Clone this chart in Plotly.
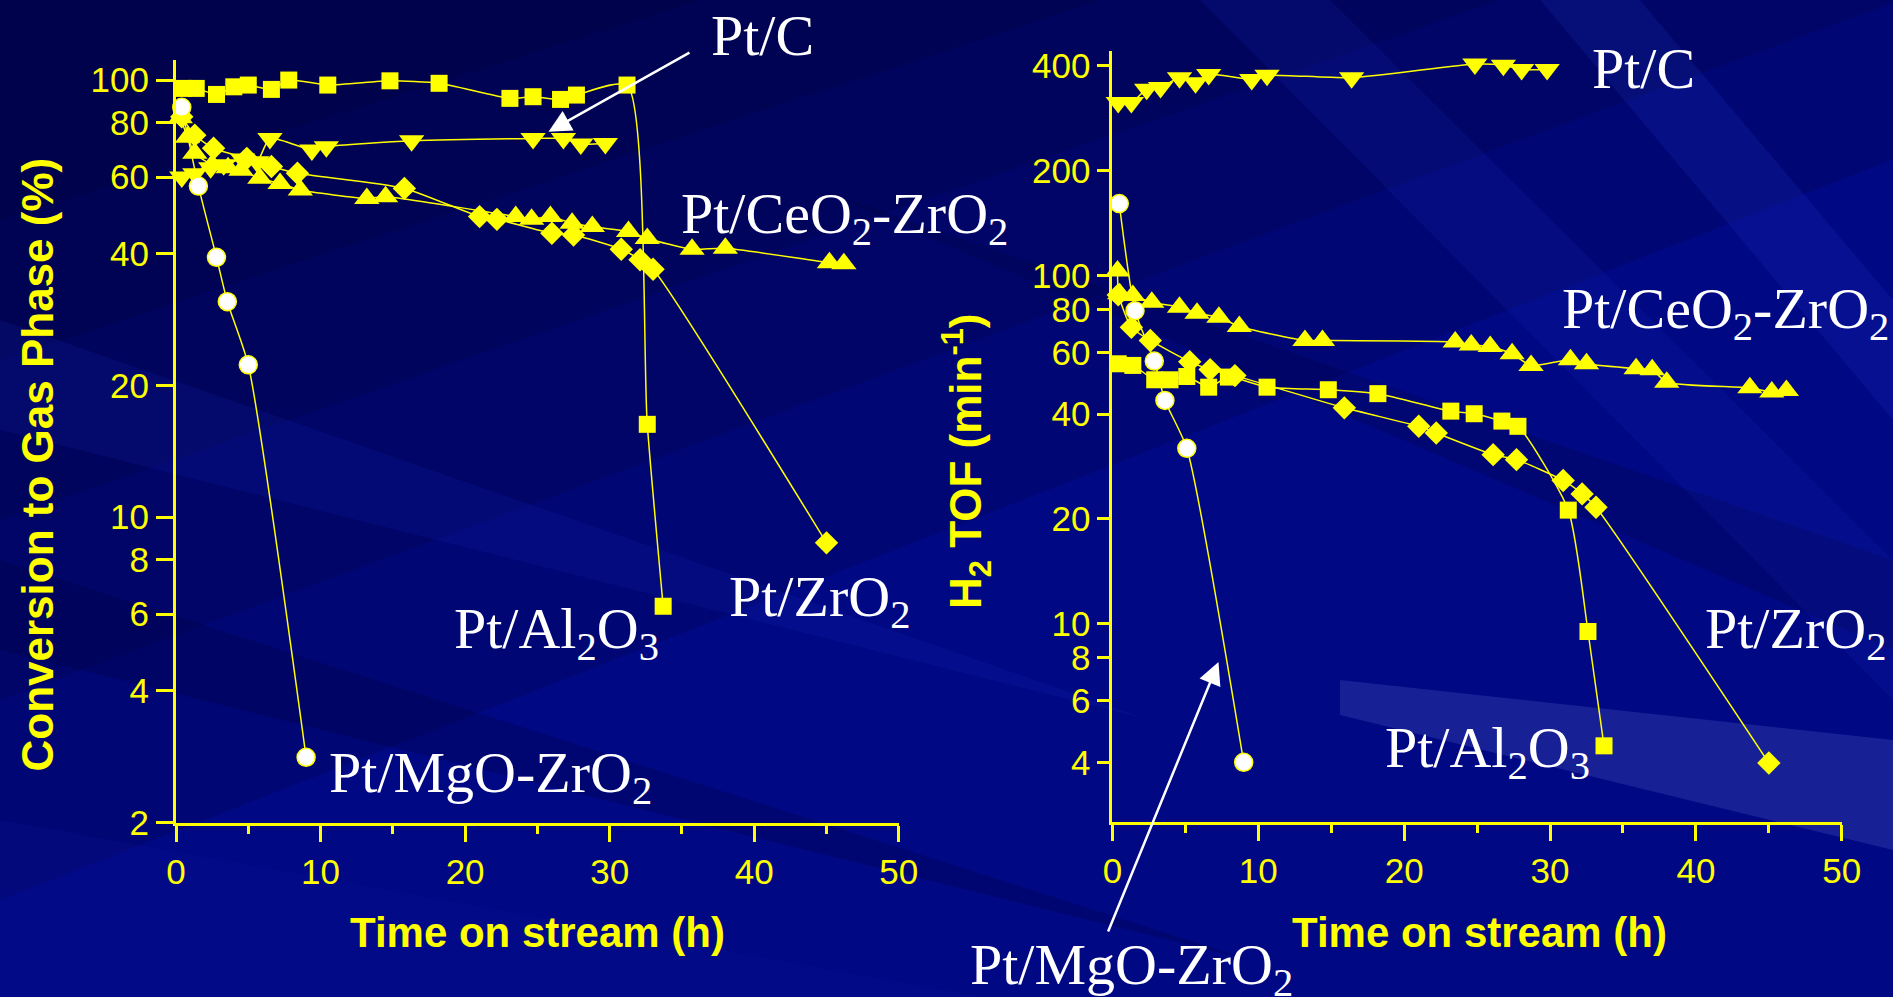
import plotly.graph_objects as go

W, H = 1893, 997

# ---------------- data: conversion to gas phase (%) ----------------
al_conv_t = [0.5, 1.4, 2.8, 4.0, 5.0, 6.6, 7.8, 10.5, 14.8, 18.2, 23.1, 24.7, 26.6, 27.7, 31.2, 32.6, 33.7]
al_conv = [95.7, 95.7, 92.7, 96.5, 97.4, 95.2, 100, 97.4, 99.6, 98.3, 90.8, 91.6, 90.3, 92.4, 97.4, 16.3, 6.25]

pc_conv_t = [0.4, 1.3, 2.4, 3.3, 4.6, 5.6, 6.5, 9.4, 10.4, 16.3, 24.7, 26.8, 28.0, 29.7]
pc_conv = [60, 61, 63, 64, 66, 65, 73.5, 69.2, 70.4, 72.6, 73.5, 73.5, 71.4, 71.6]

ce_conv_t = [0.3, 0.8, 1.3, 2.5, 3.6, 4.5, 5.8, 7.2, 8.6, 13.2, 14.5, 23.5, 24.6, 25.9, 27.4, 28.8,
             31.3, 32.6, 35.7, 38.0, 45.2, 46.2]
ce_conv = [82, 74, 68, 64, 63, 62.2, 59.6, 58, 56, 53.6, 54.1, 48.7, 48, 48.7, 47, 46.2,
           45, 43.4, 41, 41.2, 38.2, 38]

zr_conv_t = [0.4, 1.3, 2.6, 4.9, 6.6, 8.4, 15.8, 21.0, 22.2, 26.0, 27.5, 30.8, 32.1, 33.0, 45.0]
zr_conv = [82.4, 74.8, 69.8, 66.2, 63.4, 61.2, 56.5, 48.7, 48.0, 44.6, 44.2, 41.0, 38.8, 36.9, 8.73]

mg_conv_t = [0.4, 1.55, 2.8, 3.55, 5.0, 9.0]
mg_conv = [86.6, 57.2, 39.3, 31.1, 22.3, 2.82]

# ---------------- data: H2 TOF (min^-1) ----------------
pc_tof_t = [0.4, 1.3, 2.35, 3.3, 4.6, 5.7, 6.6, 9.55, 10.6, 16.4, 24.85, 26.8, 28.05, 29.8]
pc_tof = [314, 314, 343, 347, 370, 358, 378, 366, 376, 370, 405, 402, 391, 391]

ce_tof_t = [0.35, 0.5, 1.4, 2.7, 4.6, 5.8, 7.3, 8.7, 13.2, 14.4, 23.5, 24.6, 25.9, 27.4, 28.7,
            31.4, 32.5, 35.9, 37.0, 38.0, 43.7, 45.2, 46.2]
ce_tof = [103, 88.6, 87.6, 83.8, 81.1, 77.9, 75.9, 71.4, 65.1, 65.1, 64.4, 63.2, 62.6, 59.6, 55.2,
          57.3, 55.8, 54.0, 53.6, 49.4, 47.6, 46.3, 46.8]

zr_tof_t = [0.4, 1.3, 2.6, 5.3, 6.7, 8.4, 15.9, 21.0, 22.2, 26.1, 27.7, 30.9, 32.2, 33.15, 45.0]
zr_tof = [88, 71.0, 65.1, 56.6, 53.7, 51.6, 41.7, 36.9, 35.3, 30.6, 29.6, 25.8, 23.6, 21.6, 3.98]

al_tof_t = [0.4, 1.4, 2.9, 3.95, 5.1, 6.6, 7.95, 10.6, 14.8, 18.2, 23.2, 24.8, 26.7, 27.8, 31.25, 32.6, 33.7]
al_tof = [55.8, 55.2, 50.2, 50.2, 51.3, 47.8, 51.1, 47.8, 47.0, 45.8, 40.8, 40.1, 38.2, 36.9, 21.2, 9.5, 4.46]

mg_tof_t = [0.47, 1.55, 2.87, 3.6, 5.1, 9.0]
mg_tof = [161, 79.3, 56.8, 43.8, 31.9, 4.0]

conv_ticks = [2, 4, 6, 8, 10, 20, 40, 60, 80, 100]
tof_ticks = [4, 6, 8, 10, 20, 40, 60, 80, 100, 200, 400]
time_ticks = [0, 10, 20, 30, 40, 50]

YELLOW = "#ffff00"
WHITE = "#ffffff"


def px(x):
    return x / W


def py(y):
    return 1 - y / H


fig = go.Figure()


def add_series(t, v, symbol, size, xa, ya, fill=YELLOW, smooth=0.6):
    fig.add_trace(go.Scatter(
        x=t, y=v, xaxis=xa, yaxis=ya, mode="lines+markers",
        line=dict(color=YELLOW, width=1.5, shape="spline", smoothing=smooth),
        marker=dict(symbol=symbol, size=size, color=fill,
                    line=dict(color=YELLOW, width=1.5 if fill != YELLOW else 0)),
        showlegend=False, hoverinfo="skip", cliponaxis=False,
    ))


# left panel
add_series(ce_conv_t, ce_conv, "triangle-up", 22, "x", "y")
add_series(zr_conv_t, zr_conv, "diamond", 18, "x", "y")
add_series(pc_conv_t, pc_conv, "triangle-down", 22, "x", "y")
add_series(al_conv_t, al_conv, "square", 17, "x", "y")
add_series(mg_conv_t, mg_conv, "circle", 18, "x", "y", fill=WHITE)

# right panel
add_series(ce_tof_t, ce_tof, "triangle-up", 22, "x2", "y2")
add_series(zr_tof_t, zr_tof, "diamond", 18, "x2", "y2")
add_series(pc_tof_t, pc_tof, "triangle-down", 22, "x2", "y2")
add_series(al_tof_t, al_tof, "square", 17, "x2", "y2")
add_series(mg_tof_t, mg_tof, "circle", 18, "x2", "y2", fill=WHITE)

tick_font = dict(family="Liberation Sans, Arial, sans-serif", size=35, color=YELLOW)

xcommon = dict(
    range=[0, 50], tickmode="array", tickvals=time_ticks, ticktext=[str(v) for v in time_ticks],
    showgrid=False, zeroline=False, showline=True, linecolor=YELLOW, linewidth=3, automargin=False,
    ticks="outside", tickcolor=YELLOW, tickwidth=3, ticklen=16, tickfont=tick_font,
    minor=dict(tickmode="linear", tick0=5, dtick=10, ticks="outside", ticklen=8,
               tickwidth=3, tickcolor=YELLOW, showgrid=False),
)
ycommon = dict(
    type="log", showgrid=False, zeroline=False, showline=True, linecolor=YELLOW, linewidth=3,
    automargin=False, ticks="outside", tickcolor=YELLOW, tickwidth=3, tickfont=tick_font,
    tickmode="array",
)

fig.update_layout(
    template="none",
    width=W, height=H, margin=dict(l=0, r=0, t=0, b=0, autoexpand=False),
    paper_bgcolor="#000883", plot_bgcolor="rgba(0,0,0,0)",
    xaxis=dict(domain=[px(176), px(898.8)], anchor="y", **xcommon),
    yaxis=dict(domain=[py(822.5), py(60)], anchor="x", range=[0.30103, 2.0459],
               tickvals=conv_ticks, ticktext=[str(v) for v in conv_ticks], ticklen=17, **ycommon),
    xaxis2=dict(domain=[px(1112.4), px(1841.8)], anchor="y2", **xcommon),
    yaxis2=dict(domain=[py(821.5), py(51)], anchor="x2", range=[0.432, 2.645],
                tickvals=tof_ticks, ticktext=[str(v) for v in tof_ticks], ticklen=12, **ycommon),
)


# background: darker upper-left, tapered diagonal streaks
def poly(points, color):
    path = "M " + " L ".join(f"{px(x):.5f},{py(y):.5f}" for x, y in points) + " Z"
    fig.add_shape(type="path", path=path, xref="paper", yref="paper", layer="below",
                  fillcolor=color, line=dict(width=0))


for y0, x0 in [(900, 2300), (700, 1900), (520, 1500), (360, 1100), (220, 700)]:
    poly([(0, 0), (x0, 0), (0, y0)], "rgba(0,0,35,0.16)")
poly([(0, 320), (1150, 720), (0, 430)], "rgba(20,30,170,0.22)")
poly([(0, 560), (1250, 960), (0, 650)], "rgba(0,0,50,0.22)")
poly([(0, 820), (1000, 1000), (0, 1000)], "rgba(20,30,170,0.15)")
poly([(820, 190), (1893, 560), (1893, 650)], "rgba(0,0,50,0.20)")
poly([(1200, 0), (1330, 0), (1893, 560), (1893, 700)], "rgba(30,50,200,0.14)")
poly([(1540, 0), (1640, 0), (1893, 300), (1893, 420)], "rgba(40,60,210,0.16)")
poly([(1340, 680), (1893, 740), (1893, 850), (1340, 715)], "rgba(120,130,230,0.20)")

label_font = dict(family="Liberation Serif, Times New Roman, serif", size=58, color=WHITE)
title_font = dict(family="Liberation Sans, Arial, sans-serif", size=44, color=YELLOW)


def label(text, x_left, cap_top):
    fig.add_annotation(text=text, x=px(x_left), y=py(cap_top - 14), xref="paper", yref="paper",
                       xanchor="left", yanchor="top", showarrow=False, font=label_font)


# curve labels, left panel
label("Pt/C", 709, 15)
label("Pt/CeO<sub>2</sub>-ZrO<sub>2</sub>", 679, 193)
label("Pt/Al<sub>2</sub>O<sub>3</sub>", 452, 608)
label("Pt/ZrO<sub>2</sub>", 727, 576)
label("Pt/MgO-ZrO<sub>2</sub>", 327, 752)
# curve labels, right panel
label("Pt/C", 1590, 48)
label("Pt/CeO<sub>2</sub>-ZrO<sub>2</sub>", 1560, 288)
label("Pt/ZrO<sub>2</sub>", 1703, 608)
label("Pt/Al<sub>2</sub>O<sub>3</sub>", 1383, 727)
label("Pt/MgO-ZrO<sub>2</sub>", 968, 944)

# pointer arrows
for (tx, ty), (sx, sy) in [((548.5, 131.7), (691, 51.7)), ((1218.5, 662), (1107.5, 933))]:
    fig.add_annotation(x=px(tx), y=py(ty), xref="paper", yref="paper", text="",
                       showarrow=True, ax=sx - tx, ay=sy - ty, axref="pixel", ayref="pixel",
                       arrowcolor=WHITE, arrowwidth=2.5, arrowhead=2, arrowsize=1.8)


def title(text, x, y, angle=0, size=44):
    fig.add_annotation(text=text, x=px(x), y=py(y), xref="paper", yref="paper",
                       xanchor="center", yanchor="middle", textangle=angle, showarrow=False,
                       font=dict(title_font, size=size))


title("<b>Conversion to Gas Phase (%)</b>", 36.5, 465, -90)
title("<b>H<sub>2</sub> TOF (min<sup>-1</sup>)</b>", 966, 462, -90)
title("<b>Time on stream (h)</b>", 537.5, 932, 0, 42)
title("<b>Time on stream (h)</b>", 1479, 932, 0, 42)

fig.write_html("out.html")
